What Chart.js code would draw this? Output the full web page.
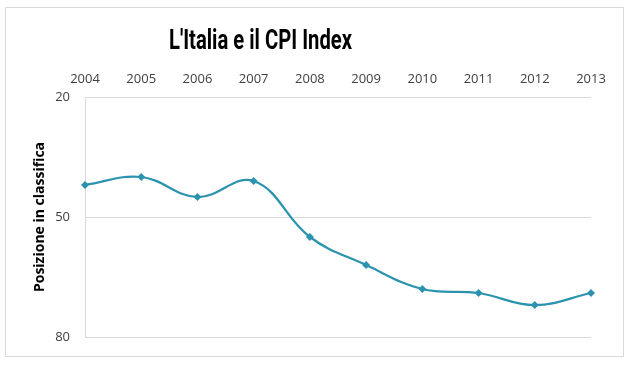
<!DOCTYPE html>
<html>
<head>
<meta charset="utf-8">
<script src="https://cdn.jsdelivr.net/npm/chart.js@4/dist/chart.umd.min.js"></script>
<style>
html,body{margin:0;padding:0;background:#fff;}
#wrap{position:relative;width:630px;height:365px;}
</style>
</head>
<body>
<div id="wrap"><canvas id="c" width="630" height="365"></canvas></div>
<script>
const years = ["2004","2005","2006","2007","2008","2009","2010","2011","2012","2013"];
const ranking = [42, 40, 45, 41, 55, 62, 68, 69, 72, 69];
const yTicks = [20, 50, 80];
const titleText = "L'Italia e il CPI Index";
const yTitle = "Posizione in classifica";

const frame = {
  id: 'frame',
  beforeDraw(chart) {
    const ctx = chart.ctx;
    ctx.save();
    ctx.fillStyle = '#ffffff';
    ctx.fillRect(0, 0, chart.width, chart.height);
    ctx.strokeStyle = '#d9d9d9';
    ctx.lineWidth = 1;
    ctx.strokeRect(5.5, 7.5, 618, 349);
    ctx.restore();
  }
};

// condensed chart title drawn as real text
const condensedTitle = {
  id: 'condensedTitle',
  afterDraw(chart, args, opts) {
    const ctx = chart.ctx;
    ctx.save();
    ctx.font = "bold 27px Roboto, 'DejaVu Sans', sans-serif";
    ctx.fillStyle = '#000000';
    ctx.textBaseline = 'alphabetic';
    ctx.textAlign = 'center';
    const w = ctx.measureText(opts.text).width;
    const sx = opts.width / w;
    ctx.translate(opts.cx, opts.baseline);
    ctx.scale(sx, 1);
    ctx.fillText(opts.text, 0, 0);
    ctx.restore();
  }
};

new Chart(document.getElementById('c'), {
  type: 'line',
  data: {
    labels: years,
    datasets: [{
      data: ranking,
      borderColor: '#2b93ae',
      backgroundColor: '#2b93ae',
      borderWidth: 2.25,
      tension: 0.4,
      pointStyle: 'rectRot',
      pointRadius: 4,
      pointBorderWidth: 0,
      fill: false
    }]
  },
  options: {
    responsive: false,
    animation: false,
    layout: { padding: { left: 0, right: 39, top: 55, bottom: 28 } },
    plugins: {
      legend: { display: false },
      tooltip: { enabled: false },
      title: { display: false },
      condensedTitle: { text: titleText, cx: 260.5, baseline: 49, width: 183 }
    },
    scales: {
      x: {
        position: 'top',
        offset: false,
        grid: { display: false, drawTicks: false },
        border: { display: false },
        ticks: {
          color: '#404040',
          font: { family: "'Open Sans', sans-serif", size: 13 },
          padding: 10,
          maxRotation: 0
        },
        afterFit(scale) { scale.height = 97 - 55; }
      },
      y: {
        reverse: true,
        min: 20,
        max: 80,
        afterBuildTicks(scale) { scale.ticks = yTicks.map(v => ({ value: v })); },
        grid: { color: '#d9d9d9', lineWidth: 1, drawTicks: false },
        border: { display: true, color: '#d9d9d9', width: 1 },
        ticks: {
          color: '#404040',
          font: { family: "'Open Sans', sans-serif", size: 13 },
          padding: 15
        },
        title: {
          display: true,
          text: yTitle,
          color: '#000000',
          font: { family: "'Open Sans', sans-serif", size: 14, weight: 'bold', lineHeight: 1.2 },
          padding: { top: 32, bottom: 0 }
        },
        afterFit(scale) { scale.width = 85; }
      }
    }
  },
  plugins: [frame, condensedTitle]
});
</script>
</body>
</html>
